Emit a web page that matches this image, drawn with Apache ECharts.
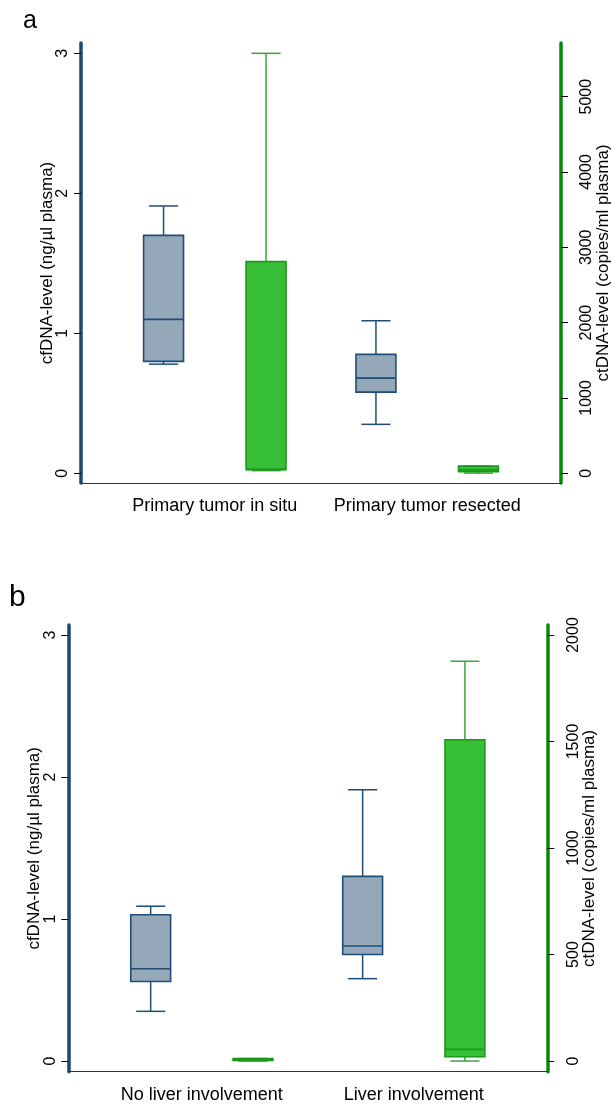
<!DOCTYPE html>
<html>
<head>
<meta charset="utf-8">
<script src="https://cdn.jsdelivr.net/npm/echarts@6/dist/echarts.min.js"></script>
<style>
html,body{margin:0;padding:0;background:#fff;}
#chart{width:611px;height:1113px;}
</style>
</head>
<body>
<div id="chart"></div>
<script>
// ---- data ----
const panelACategories = ['Primary tumor in situ', 'Primary tumor resected'];
const panelBCategories = ['No liver involvement', 'Liver involvement'];
// five-number summaries: [min, Q1, median, Q3, max]
const panelACfDNA = [[0.78, 0.80, 1.10, 1.70, 1.91], [0.35, 0.58, 0.68, 0.85, 1.09]];
const panelACtDNA = [[35, 48, 52, 2810, 5575], [2, 20, 45, 95, 95]];
const panelBCfDNA = [[0.35, 0.56, 0.65, 1.03, 1.09], [0.58, 0.75, 0.81, 1.30, 1.91]];
const panelBCtDNA = [[0, 3, 6, 12, 12], [0, 20, 55, 1508, 1877]];
const cfTicks = [0, 1, 2, 3];
const ctTicksA = [0, 1000, 2000, 3000, 4000, 5000];
const ctTicksB = [0, 500, 1000, 1500, 2000];
const categoryTicks = [0, 1];

// ---- style ----
const FONT = 'Liberation Sans, Arial, sans-serif';
const BOX_W = 0.188, CAP_W = 0.137, OFFSET = 0.2413;
const greyStyle = {fill: '#95a8ba', stroke: '#1f4d78', whisker: '#1f4d78'};
const greenStyle = {fill: '#36bf36', stroke: '#1a9a1a', whisker: '#3ea33e'};
const LEFT_AXIS = '#1b4870', RIGHT_AXIS = '#078a07';

function toRows(stats) { return stats.map((s, i) => [i].concat(s)); }

function boxRenderer(offset, st) {
  return function (params, api) {
    const c = api.value(0) + offset;
    const p = v => api.coord([c, v]);
    const x = p(api.value(1))[0];
    const yMin = p(api.value(1))[1], yQ1 = p(api.value(2))[1], yMed = p(api.value(3))[1],
          yQ3 = p(api.value(4))[1], yMax = p(api.value(5))[1];
    const hb = api.size([BOX_W, 0])[0] / 2;
    const hc = api.size([CAP_W, 0])[0] / 2;
    const ls = {stroke: st.whisker, lineWidth: 1.5};
    return {type: 'group', children: [
      {type: 'line', shape: {x1: x, y1: yQ3, x2: x, y2: yMax}, style: ls},
      {type: 'line', shape: {x1: x, y1: yQ1, x2: x, y2: yMin}, style: ls},
      {type: 'line', shape: {x1: x - hc, y1: yMax, x2: x + hc, y2: yMax}, style: ls},
      {type: 'line', shape: {x1: x - hc, y1: yMin, x2: x + hc, y2: yMin}, style: ls},
      {type: 'rect', shape: {x: x - hb, y: yQ3, width: 2 * hb, height: Math.max(yQ1 - yQ3, 1)},
        style: {fill: st.fill, stroke: st.stroke, lineWidth: 1.6}},
      {type: 'line', shape: {x1: x - hb, y1: yMed, x2: x + hb, y2: yMed},
        style: {stroke: st.stroke, lineWidth: 1.6}}
    ]};
  };
}

function xAxisFor(gridIndex, cats) {
  return {
    gridIndex, type: 'value', min: -0.63, max: 1.63,
    axisLine: {show: true, onZero: false, lineStyle: {color: '#333', width: 1}},
    axisTick: {show: false}, splitLine: {show: false},
    axisLabel: {customValues: categoryTicks, formatter: v => cats[Math.round(v)],
      fontSize: 18, color: '#000', margin: 14, fontFamily: FONT}
  };
}
function leftY(gridIndex, min, max) {
  return {
    gridIndex, type: 'value', position: 'left', min, max,
    name: 'cfDNA-level (ng/µl plasma)', nameLocation: 'middle', nameGap: 25.5, nameRotate: 90,
    nameMoveOverlap: false,
    nameTextStyle: {fontSize: 17, color: '#000', fontFamily: FONT},
    axisLine: {show: true, onZero: false, lineStyle: {color: LEFT_AXIS, width: 3.5}},
    axisTick: {show: true, length: 7, customValues: cfTicks, lineStyle: {color: '#000', width: 1}},
    axisLabel: {customValues: cfTicks, formatter: v => String(v), rotate: 90, fontSize: 16,
      color: '#000', margin: 10, fontFamily: FONT},
    splitLine: {show: false}
  };
}
function rightY(gridIndex, min, max, ticks) {
  return {
    gridIndex, type: 'value', position: 'right', min, max,
    name: 'ctDNA-level (copies/ml plasma)', nameLocation: 'middle', nameGap: 34, nameRotate: 90,
    nameMoveOverlap: false,
    nameTextStyle: {fontSize: 17, color: '#000', fontFamily: FONT},
    axisLine: {show: true, onZero: false, lineStyle: {color: RIGHT_AXIS, width: 3.5}},
    axisTick: {show: true, length: 7, customValues: ticks, lineStyle: {color: '#000', width: 1}},
    axisLabel: {customValues: ticks, formatter: v => String(v), rotate: 90, fontSize: 16,
      color: '#000', margin: 18, fontFamily: FONT},
    splitLine: {show: false}
  };
}

const chart = echarts.init(document.getElementById('chart'), null, {renderer: 'canvas'});
chart.setOption({
  backgroundColor: '#fff',
  animation: false,
  title: [
    {text: 'a', left: 18, top: 4, textStyle: {fontSize: 25, fontWeight: 'normal', color: '#000', fontFamily: FONT}},
    {text: 'b', left: 4, top: 578, textStyle: {fontSize: 30, fontWeight: 'normal', color: '#000', fontFamily: FONT}}
  ],
  grid: [
    {left: 81, right: 50, top: 43, height: 440, outerBoundsMode: 'none'},
    {left: 68.3, right: 63.7, top: 625, height: 446.7, outerBoundsMode: 'none'}
  ],
  xAxis: [xAxisFor(0, panelACategories), xAxisFor(1, panelBCategories)],
  yAxis: [
    leftY(0, -0.069, 3.074),
    rightY(0, -129, 5712, ctTicksA),
    leftY(1, -0.075, 3.070),
    rightY(1, -50, 2047, ctTicksB)
  ],
  series: [
    {type: 'custom', xAxisIndex: 0, yAxisIndex: 0, renderItem: boxRenderer(-OFFSET, greyStyle),
      encode: {x: 0, y: [1, 2, 3, 4, 5]}, data: toRows(panelACfDNA)},
    {type: 'custom', xAxisIndex: 0, yAxisIndex: 1, renderItem: boxRenderer(OFFSET, greenStyle),
      encode: {x: 0, y: [1, 2, 3, 4, 5]}, data: toRows(panelACtDNA)},
    {type: 'custom', xAxisIndex: 1, yAxisIndex: 2, renderItem: boxRenderer(-OFFSET, greyStyle),
      encode: {x: 0, y: [1, 2, 3, 4, 5]}, data: toRows(panelBCfDNA)},
    {type: 'custom', xAxisIndex: 1, yAxisIndex: 3, renderItem: boxRenderer(OFFSET, greenStyle),
      encode: {x: 0, y: [1, 2, 3, 4, 5]}, data: toRows(panelBCtDNA)}
  ]
});
</script>
</body>
</html>
